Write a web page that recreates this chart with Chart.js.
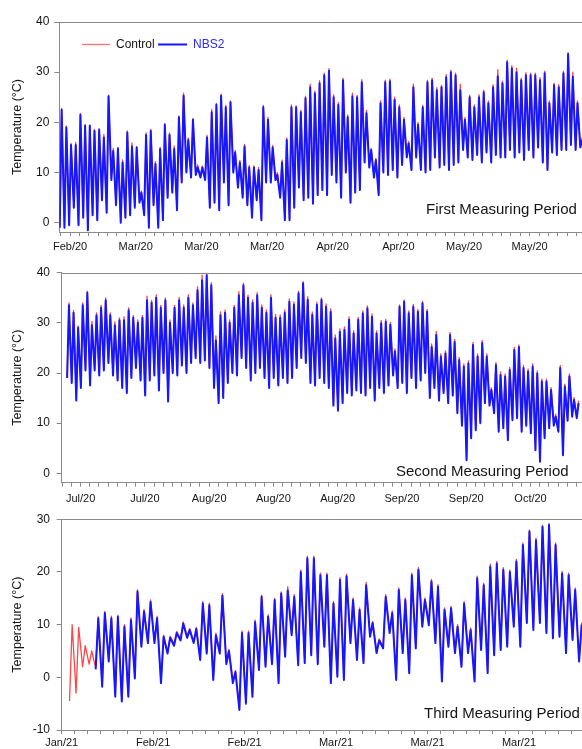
<!DOCTYPE html>
<html>
<head>
<meta charset="utf-8">
<title>Temperature: Control vs NBS2</title>
<script src="https://cdn.jsdelivr.net/npm/chart.js@4.4.1/dist/chart.umd.min.js"></script>
<style>
  html, body { margin: 0; padding: 0; background: #fff; overflow: hidden; }
  #wrap { position: relative; width: 582px; height: 749px; overflow: hidden; }
  #wrap canvas { position: absolute; left: 0; }
</style>
</head>
<body>
<div id="wrap">
  <canvas id="p1" width="600" height="254" style="top:0px"></canvas>
  <canvas id="p2" width="600" height="250" style="top:254px"></canvas>
  <canvas id="p3" width="600" height="245" style="top:504px"></canvas>
</div>
<script>
// daily lows / highs (°C), one entry per day

// first period: days counted from 1 Feb 2020
var p1Start = 12.6;
var p1TickLabels = ['Feb/20', 'Mar/20', 'Mar/20', 'Mar/20', 'Apr/20', 'Apr/20', 'May/20', 'May/20'];
var p1NbsHigh = [22.5, 19, 15.5, 15.5, 21.5, 19.3, 19.3, 18.3, 18.5, 17,
  25.2, 14.3, 14.8, 12, 18, 15.2, 15, 6, 17.5, 18.3,
  11.7, 14.7, 19.5, 17.5, 14.7, 21, 25.3, 16.5, 20.5, 11,
  11, 17, 22, 23.5, 25.3, 23, 24, 14, 12, 15.2,
  11, 11, 10.5, 23, 20.5, 15, 9.5, 12, 16.5, 23, 23, 22,
  24.8, 27, 25.8, 27.8, 29.4, 30.3, 25, 23.5, 28.4, 21,
  25.2, 25, 28, 21.8, 14.5, 12.5, 23.8, 28, 28.2, 24.5,
  23, 20.5, 15.8, 27, 19.5, 23, 28, 28.4, 26.4, 27,
  29, 30, 29.4, 26.4, 20.5, 25, 23, 25, 26, 23.8,
  27, 29.2, 27.8, 32, 30.8, 30, 28.4, 29.4, 29.4, 29.4,
  28.4, 29.8, 23.8, 27.4, 27, 29.8, 33.6, 29.1, 23.8, 16.5];
var p1NbsLow = [-1, -1, -0.5, 3, -0.5, 1, -1.5, 1.5, 0.5, 4.5, 2,
  8.5, 3.5, 0, 1, 1.5, 3, 4, 1.5, -1, 3.5,
  -1, 0.5, 5, 6, 2.5, 8, 10, 9, 9.5, 9,
  8.5, 3, 4, 2.5, 8, 3.5, 10, 7, 5, 3.5,
  1, 4.5, 0.5, 8, 8, 8.5, 5, 0.5, 0.5, 3, 7,
  4.5, 5, 3.8, 5.5, 6.5, 5.5, 9.5, 8, 5, 10,
  4, 6, 6.5, 12, 11, 9, 5.5, 10, 9.5, 10.5,
  9, 11.5, 13, 10.5, 13, 10.5, 10, 10.5, 13, 11,
  11.5, 10.5, 11.5, 12, 14.5, 13, 12.5, 13.5, 12, 14,
  12, 13.5, 13, 13, 14.5, 13, 14, 12.5, 14.5, 13,
  15, 12, 10.5, 14, 13.5, 14.5, 14.5, 15.5, 14.5, 15];
var p1CtrlHigh = [22.8, 19.3, 15.8, 16, 21.8, 19.6, 19.5, 18.6, 18.8, 17.6,
  25.4, 14.8, 15, 12.5, 18.3, 15.9, 15.2, 6.3, 17.9, 18.6,
  12.2, 15, 19.8, 17.9, 15.3, 21.3, 25.8, 16.9, 20.8, 11.5,
  11.3, 17.4, 22.6, 23.8, 25.6, 23.4, 24.3, 14.4, 12.4, 15.6,
  11.4, 11.3, 11, 23.4, 21, 15.4, 10, 12.5, 16.9, 23.5, 23.3, 22.4,
  25.2, 27.6, 26.2, 28.3, 29.8, 30.7, 25.5, 24, 28.8, 21.5,
  25.8, 25.4, 28.5, 22.4, 14.8, 12.8, 24.3, 28.4, 28.6, 25,
  23.5, 21, 16.2, 27.6, 20, 23.4, 28.4, 28.8, 26.9, 27.4,
  29.5, 30.4, 29.8, 27.6, 21, 25.4, 23.5, 25.5, 26.4, 24.3,
  27.5, 30.5, 28.2, 32.4, 31.3, 30.8, 28.8, 29.9, 29.8, 29.8,
  28.9, 30.2, 24.3, 27.8, 27.5, 30.2, 33.9, 30, 24.3, 17];
var p1CtrlLow = [-0.8, -0.7, -0.3, 3.2, -0.3, 1.3, -1.2, 1.8, 0.8, 4.8, 2.3,
  8.8, 3.8, 0.4, 1.3, 1.8, 3.3, 4.2, 1.8, -0.7, 3.8,
  -0.7, 0.8, 5.3, 6.3, 2.8, 8.3, 10.2, 9.3, 9.7, 9.3,
  8.8, 3.3, 4.3, 2.8, 8.3, 3.8, 10.3, 7.3, 5.3, 3.8,
  1.3, 4.8, 0.8, 8.3, 8.3, 8.8, 5.3, 0.8, 0.8, 3.3, 7.3,
  4.8, 5.3, 4.1, 5.8, 6.8, 5.8, 9.8, 8.3, 5.3, 10.3,
  4.3, 6.3, 6.8, 12.2, 11.2, 9.3, 5.8, 10.3, 9.8, 10.8,
  9.3, 11.8, 13.2, 10.8, 13.3, 10.8, 10.3, 10.8, 13.3, 11.3,
  11.8, 10.8, 11.8, 12.3, 14.7, 13.3, 12.8, 13.8, 12.3, 14.3,
  12.3, 13.8, 13.3, 13.3, 14.8, 13.3, 14.3, 12.8, 14.8, 13.3,
  15.2, 12.3, 10.8, 14.3, 13.8, 14.8, 14.8, 15.7, 14.8, 15.3];

// second period: days counted from 1 Jul 2020
var p2Start = 0.87;
var p2TickLabels = ['Jul/20', 'Jul/20', 'Aug/20', 'Aug/20', 'Aug/20', 'Sep/20', 'Sep/20', 'Oct/20'];
var p2NbsHigh = [33.5, 32, 29, 33.5, 36, 29.5, 31.5, 33, 34.5, 31.5,
  29.5, 30.5, 30.5, 32.5, 31, 30, 31, 34.5, 34, 35,
  33, 34.5, 30, 33, 34.5, 33, 35, 33.5, 36.5, 38.5,
  39.5, 37.5, 26.5, 31.5, 32, 30, 33, 35.5, 37.5, 35,
  34, 35.5, 33, 32, 35, 31,
  31, 32, 34.2, 33.6, 35.9, 37.9, 34.6, 31.6, 33.6, 34.6,
  33.2, 32.2, 26.9, 28.2, 28.6, 30.6, 27.9, 30.6, 31.9, 32.9,
  31.2, 27.9, 29.9, 30.2, 29.6, 24.3, 33.2, 34.2, 31.9, 33.2,
  32.2, 33.9, 32.2, 25.2, 27.6, 23.3, 23.9, 27.6, 26.2, 22.6,
  21.3, 21.9, 25.6, 23.3, 26, 23.3, 16.6, 21.6, 19.6, 19.3,
  20.6, 24.6, 25.2, 21, 20.3, 21.3, 19.9, 18.3, 18.3, 16.6,
  11.3, 21, 17.3, 19.3, 14.6, 14];
var p2NbsLow = [19, 18, 14.5, 17, 20.5, 17.5, 20.5, 19.5, 20.5, 22,
  19.5, 18.5, 17, 16, 19, 21, 18.5, 15.5, 18.5, 19.5,
  16.5, 20, 14.3, 20, 19.5, 21.5, 20, 22, 23, 22,
  22.5, 21, 17, 14, 15, 18, 20, 19.5, 23, 21,
  18.5, 20, 21, 19, 17, 19,
  17.5, 19, 18, 19, 21, 23, 22, 18, 17.5, 19,
  18, 17, 13.5, 12.5, 14, 16, 15.5, 16.5, 16, 15.5,
  17, 14.5, 17, 16, 17.5, 19.5, 17, 18, 16, 19,
  17, 18.5, 20, 15, 17, 14.5, 16, 14, 15.5, 12,
  9.5, 2.6, 7, 8.6, 10, 14, 13.5, 12, 8.3, 9,
  6.6, 10.6, 11, 8.3, 9.5, 8, 4.6, 2.3, 7, 9,
  9.5, 8.3, 3.6, 10.5, 11.3, 11];
var p2CtrlHigh = [34, 32.5, 29.4, 34, 36.3, 30.3, 32, 33.5, 35, 32,
  30.2, 31, 31.2, 33, 31.5, 30.6, 31.5, 35.3, 34.5, 35.6,
  33.5, 35, 30.6, 33.5, 35.1, 33.6, 35.6, 34, 37.2, 39.5,
  40, 38, 27.4, 32.2, 32.6, 30.6, 33.5, 36.2, 37.9, 35.5,
  34.6, 36, 33.6, 32.6, 35.6, 31.7,
  31.6, 32.6, 34.8, 34.2, 36.3, 38.2, 35.2, 32.2, 34.1, 35,
  33.8, 32.8, 27.6, 28.8, 29.2, 31.2, 28.4, 31.1, 32.4, 33.4,
  31.8, 28.4, 30.5, 30.7, 30.1, 24.8, 33.6, 34.6, 32.4, 33.7,
  32.7, 34.3, 32.7, 25.8, 28.3, 23.8, 24.4, 28.1, 26.7, 23.1,
  21.8, 22.4, 26.1, 23.8, 26.5, 23.8, 17.1, 22.1, 20.2, 19.8,
  21.1, 25.1, 25.6, 21.5, 20.8, 21.8, 20.4, 18.8, 18.8, 17.1,
  11.8, 21.5, 17.8, 19.8, 15.1, 14.5];
var p2CtrlLow = [19.3, 18.3, 14.8, 17.3, 20.8, 17.8, 20.8, 19.8, 20.8, 22.3,
  19.8, 18.8, 17.3, 16.3, 19.3, 21.3, 18.8, 15.8, 18.8, 19.8,
  16.8, 20.3, 14.6, 20.3, 19.8, 21.8, 20.3, 22.3, 23.3, 22.3,
  22.8, 21.3, 17.3, 14.3, 15.3, 18.3, 20.3, 19.8, 23.3, 21.3,
  18.8, 20.3, 21.3, 19.3, 17.3, 19.3,
  17.8, 19.3, 18.3, 19.3, 21.3, 23.3, 22.3, 18.3, 17.8, 19.3,
  18.3, 17.3, 13.8, 12.8, 14.3, 16.3, 15.8, 16.8, 16.3, 15.8,
  17.3, 14.8, 17.3, 16.3, 17.8, 19.8, 17.3, 18.3, 16.3, 19.3,
  17.3, 18.8, 20.3, 15.3, 17.3, 14.8, 16.3, 14.3, 15.8, 12.3,
  9.8, 2.9, 7.3, 8.9, 10.3, 14.3, 13.8, 12.3, 8.6, 9.3,
  6.9, 10.9, 11.3, 8.6, 9.8, 8.3, 4.9, 2.6, 7.3, 9.3,
  9.8, 8.6, 3.9, 10.8, 11.6, 11.3];

// third period: days counted from 1 Jan 2021 (NBS2 logger starts 4 days after Control)
var p3NbsStart = 22;
var p3CtrlStart = 18;
var p3TickLabels = ['Jan/21', 'Feb/21', 'Feb/21', 'Mar/21', 'Mar/21', 'Mar/21'];
var p3NbsHigh = [11.2, 12.2, 11.2, 11.5, 9.6, 10.9, 16.3, 12.5, 14.3, 11.2,
  7.7, 7.5, 8.4, 10.2, 9, 9.2, 14, 13.7, 8, 15.5,
  5, 1, 8.4, 8.4, 10.5, 15.3, 11.5, 14.7, 15.9,
  16.5, 15.3, 20, 22.6, 22.6, 19.4, 19.4, 14, 18.5, 19.2,
  14.7, 12.8, 17.5, 10.3, 7, 15.3, 12.2, 16.6, 14.7, 19.4,
  20.4, 14.7, 18.2, 17.2, 12.8, 13.1, 9.6, 14, 9, 18.8,
  17.5, 21, 21.6, 20.4, 20, 22, 25.1, 27.7, 26, 28.6,
  28.9, 25.1, 19.7, 19.4, 16.6, 10];
var p3NbsLow = [1.5, -1.8, 3, -3.7, -4.6, -3.7, -0.2, 5.8, 6.5, 6.5,
  -1.1, 4.5, 6, 7, 7.5, 6.5, 3.3, 4.5, -0.5, 4.5,
  2.5, -1.1, -6.2, -5, -3.7, 1.4, 2, 2.5, -1.1,
  3.9, 8, 2.3, 2.7, 4.2, 2.5, 5.8, -1.1, 0.1, -0.5,
  6.5, 3.3, 2.7, 7.7, 4.6, 5.5, 8.4, -0.5, 4.6, 0.8,
  5.5, 9.6, 9.9, 6.5, -0.8, 5.8, 4.6, 2, 4.6, -0.8,
  5.2, 0.8, 4.2, 5.2, 5.8, 9.6, 5.8, 10.3, 9, 10.3,
  8.4, 7.4, 7.7, 4.6, 7.1, 3];
var p3CtrlHigh = [10, 9.5, 6, 5,
  11.5, 12.5, 11.6, 11.8, 10, 11.3, 16.6, 12.9, 14.7, 11.6,
  8, 7.8, 8.7, 10.5, 9.3, 9.5, 14.4, 14.1, 8.4, 15.9,
  5.3, 1.3, 8.8, 8.8, 10.9, 15.6, 11.9, 15, 16.2,
  17.2, 15.7, 20.4, 23, 23, 19.8, 19.8, 14.4, 18.9, 19.6,
  15.1, 13.2, 18, 10.6, 7.3, 15.7, 12.6, 17, 15.1, 19.8,
  20.8, 15.1, 18.6, 17.6, 13.2, 13.5, 10, 14.4, 9.4, 19.2,
  17.9, 21.5, 22, 20.8, 20.4, 22.4, 25.5, 28, 26.4, 28.9,
  29.2, 25.5, 20.1, 19.8, 17, 10.4];
var p3CtrlLow = [-4.5, -3, 2, 2.5,
  1.8, -1.5, 3.3, -3.4, -4.3, -3.4, 0.1, 6.1, 6.8, 6.8,
  -0.8, 4.8, 6.3, 7.3, 7.8, 6.8, 3.6, 4.8, -0.2, 4.8,
  2.8, -0.8, -5.9, -4.7, -3.4, 1.7, 2.3, 2.8, -0.8,
  4.2, 8.3, 2.6, 3, 4.5, 2.8, 6.1, -0.8, 0.4, -0.2,
  6.8, 3.6, 3, 8, 4.9, 5.8, 8.7, -0.2, 4.9, 1.1,
  5.8, 9.9, 10.2, 6.8, -0.5, 6.1, 4.9, 2.3, 4.9, -0.5,
  5.5, 1.1, 4.5, 5.5, 6.1, 9.9, 6.1, 10.6, 9.3, 10.6,
  8.7, 7.7, 8, 4.9, 7.4, 3.3];

var FONT = '"Liberation Sans", Arial, Helvetica, sans-serif';
var AXIS_GREY = '#8a8a8a';
var TEXT = '#151515';
var RED = 'rgb(255, 70, 70)';
var BLUE = 'rgb(22, 22, 255)';

// turn the daily low/high lists into a zig-zag trace (low early morning, high afternoon)
function dailyTrace(start, lows, highs) {
  var pts = [];
  for (var k = 0; k < highs.length; k++) {
    pts.push({ x: start + k + 0.2, y: lows[k] });
    pts.push({ x: start + k + 0.6, y: highs[k] });
  }
  return pts;
}

function xAxis(min, max, firstMajor, labels, pad, h) {
  return {
    type: 'linear', min: min, max: max,
    border: { color: AXIS_GREY, width: 1 },
    grid: { drawOnChartArea: false, tickLength: 4, tickColor: AXIS_GREY },
    ticks: {
      autoSkip: false, maxRotation: 0, padding: pad, color: TEXT,
      font: { size: 11, family: FONT },
      callback: function (v) {
        var k = (v - firstMajor) / 14;
        if (Math.abs(k - Math.round(k)) > 1e-6) return '';
        return labels[Math.round(k)] || '';
      }
    },
    // minor ticks every 2 days, labelled ticks every 14
    afterBuildTicks: function (s) {
      var t = [], v = firstMajor;
      while (v - 2 >= min) v -= 2;
      for (; v <= max; v += 2) t.push({ value: v });
      s.ticks = t;
    },
    afterFit: function (s) { s.height = h; }
  };
}

function yAxis(min, max, vals, pad, w) {
  return {
    min: min, max: max,
    border: { color: AXIS_GREY, width: 1 },
    grid: { drawOnChartArea: false, tickLength: 5, tickColor: AXIS_GREY },
    ticks: { padding: pad, color: TEXT, font: { size: 12, family: FONT } },
    afterBuildTicks: function (s) { s.ticks = vals.map(function (v) { return { value: v }; }); },
    afterFit: function (s) { s.width = w; },
    title: {
      display: true, text: 'Temperature (°C)', color: TEXT,
      font: { size: 12.5, family: FONT }, padding: { top: 10, bottom: 0 }
    }
  };
}

// top frame line, the period caption and (first panel only) the series key
var decorPlugin = {
  id: 'decor',
  afterDatasetsDraw: function (chart, args, o) {
    var c = chart.ctx, a = chart.chartArea;
    c.save();
    c.strokeStyle = AXIS_GREY;
    c.lineWidth = 1;
    c.beginPath();
    c.moveTo(a.left, Math.round(a.top) + 0.5);
    c.lineTo(a.right, Math.round(a.top) + 0.5);
    c.stroke();

    c.fillStyle = TEXT;
    c.font = '15px ' + FONT;
    c.textBaseline = 'alphabetic';
    c.fillText(o.caption, o.captionX, o.captionY);

    if (o.key) {
      var ds = chart.data.datasets;
      o.key.forEach(function (item) {
        var d = ds[item.ds];
        c.strokeStyle = item.lineColor || d.borderColor;
        c.lineWidth = d.borderWidth;
        c.beginPath();
        c.moveTo(item.x, o.keyY);
        c.lineTo(item.x + item.w, o.keyY);
        c.stroke();
        c.fillStyle = item.textColor;
        c.font = '12px ' + FONT;
        c.textBaseline = 'middle';
        c.fillText(d.label, item.x + item.w + 6, o.keyY + 0.5);
      });
    }
    c.restore();
  }
};

function makePanel(id, cfg) {
  var datasets = [
    { label: 'Control', data: cfg.control, borderColor: RED, borderWidth: 1.3, order: 1 },
    { label: 'NBS2', data: cfg.nbs, borderColor: BLUE, borderWidth: 2, order: 0 }
  ];
  datasets.forEach(function (d) {
    d.pointRadius = 0;
    d.tension = 0;
    d.fill = false;
    d.borderJoinStyle = 'round';
  });
  return new Chart(document.getElementById(id), {
    type: 'line',
    data: { datasets: datasets },
    options: {
      responsive: false,
      animation: false,
      events: [],
      layout: { padding: { top: cfg.padTop, left: 0, right: 0, bottom: 0 } },
      scales: { x: cfg.x, y: cfg.y },
      plugins: {
        legend: { display: false },
        tooltip: { enabled: false },
        decor: cfg.decor
      }
    },
    plugins: [decorPlugin]
  });
}

makePanel('p1', {
  control: dailyTrace(p1Start, p1CtrlLow, p1CtrlHigh),
  nbs: dailyTrace(p1Start, p1NbsLow, p1NbsHigh),
  padTop: 22,
  x: xAxis(12.7, 128.0, 15, p1TickLabels, 4.4, 22),
  y: yAxis(-1.85, 40, [0, 10, 20, 30, 40], 5, 59.3),
  decor: {
    caption: 'First Measuring Period', captionX: 426, captionY: 214,
    keyY: 44.5,
    key: [
      { ds: 0, x: 82, w: 28, textColor: TEXT, lineColor: 'rgb(255, 110, 110)' },
      { ds: 1, x: 158, w: 29, textColor: 'rgb(40, 40, 255)' }
    ]
  }
});

makePanel('p2', {
  control: dailyTrace(p2Start, p2CtrlLow, p2CtrlHigh),
  nbs: dailyTrace(p2Start, p2NbsLow, p2NbsHigh),
  padTop: 18.7,
  x: xAxis(-0.11, 116.3, 4, p2TickLabels, 5.2, 21.3),
  y: yAxis(-1.87, 40, [0, 10, 20, 30, 40], 6.7, 61.7),
  decor: { caption: 'Second Measuring Period', captionX: 396, captionY: 222 }
});

makePanel('p3', {
  control: dailyTrace(p3CtrlStart, p3CtrlLow, p3CtrlHigh),
  nbs: dailyTrace(p3NbsStart, p3NbsLow, p3NbsHigh),
  padTop: 15.3,
  x: xAxis(17, 99.4, 17, p3TickLabels, 2.4, 19),
  y: yAxis(-10, 30, [-10, 0, 10, 20, 30], 6.7, 61.7),
  decor: { caption: 'Third Measuring Period', captionX: 424, captionY: 214 }
});
</script>
</body>
</html>
